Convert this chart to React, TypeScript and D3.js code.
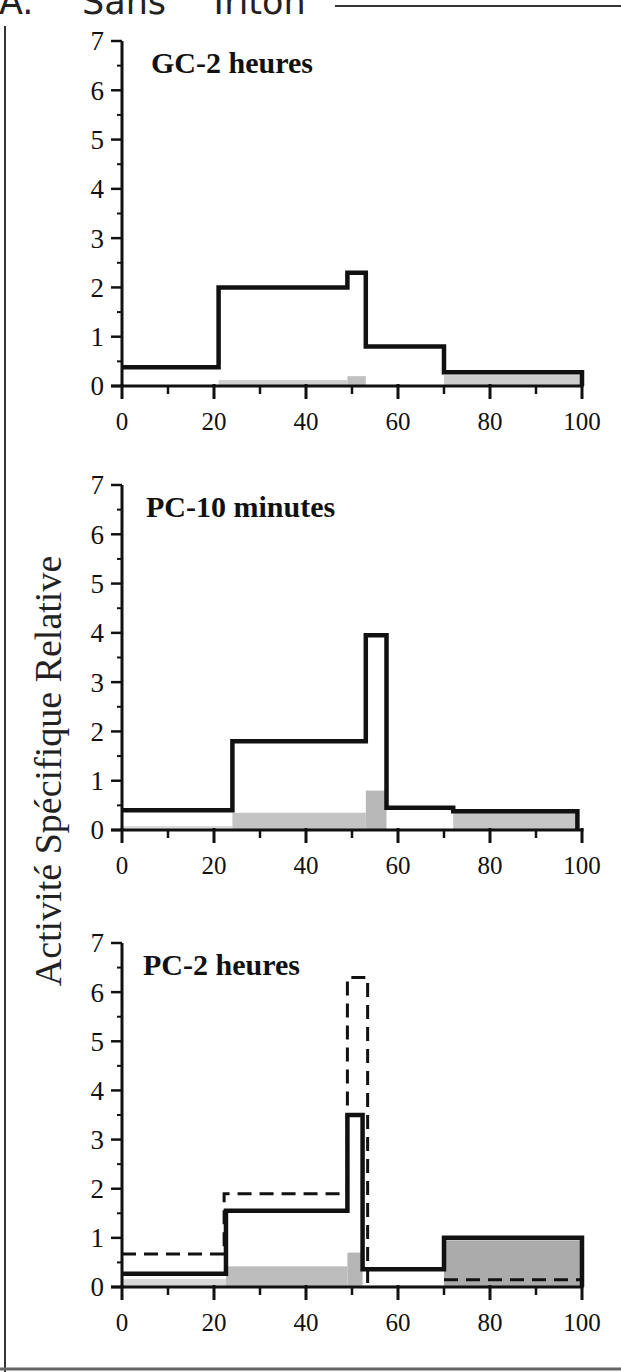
import React from "react";
import * as d3 from "d3";

const W = 621;
const H = 1372;

const xTicks = [0, 20, 40, 60, 80, 100];
const xMinor = [10, 30, 50, 70, 90];
const yTicks = [0, 1, 2, 3, 4, 5, 6, 7];
const yMinor = [0.5, 1.5, 2.5, 3.5, 4.5, 5.5, 6.5];

// GC-2 heures
const gcEdges = [0, 21, 49, 53, 70, 100];
const gcTotal = [0.38, 2.0, 2.3, 0.8, 0.28];
const gcGray = [0, 0.12, 0.2, 0, 0.22];

// PC-10 minutes
const pc10Edges = [0, 24, 53, 57.5, 72, 99];
const pc10Total = [0.4, 1.8, 3.95, 0.45, 0.38];
const pc10Gray = [0.08, 0.35, 0.8, 0, 0.38];

// PC-2 heures
const pc2Edges = [0, 22.6, 49, 52.3, 70, 100];
const pc2Total = [0.27, 1.55, 3.5, 0.36, 1.0];
const pc2Gray = [0.16, 0.42, 0.7, 0.04, 0.95];
const pc2DashEdges = [0, 22.2, 49, 53.4, 70, 100];
const pc2Dash = [0.67, 1.9, 6.3, 0, 0.15];

const panels = [
  { title: "GC-2 heures", titleX: 151, top: 41, bottom: 386, edges: gcEdges, total: gcTotal, gray: gcGray,
    shades: ["#dcdcdc", "#d0d0d0", "#c0c0c0", "#dcdcdc", "#cdcdcd"] },
  { title: "PC-10 minutes", titleX: 146, top: 485, bottom: 830, edges: pc10Edges, total: pc10Total, gray: pc10Gray,
    shades: ["#dcdcdc", "#c4c4c4", "#b8b8b8", "#dcdcdc", "#c6c6c6"] },
  { title: "PC-2 heures", titleX: 143, top: 943, bottom: 1287, edges: pc2Edges, total: pc2Total, gray: pc2Gray,
    shades: ["#d8d8d8", "#bdbdbd", "#b6b6b6", "#ebebeb", "#ababab"],
    dashEdges: pc2DashEdges, dash: pc2Dash },
];

const serif = "'Liberation Serif', 'Times New Roman', serif";

function stepPath(x, y, edges, vals) {
  const pts = vals.map((v, i) => [edges[i], v]);
  const last = edges[edges.length - 1];
  pts.push([last, vals[vals.length - 1]]);
  pts.push([last, 0]);
  return d3
    .line()
    .x((d) => x(d[0]))
    .y((d) => y(d[1]))
    .curve(d3.curveStepAfter)(pts);
}

// split a step series into runs of non-zero values
function runs(edges, vals) {
  const out = [];
  let cur = null;
  vals.forEach((v, i) => {
    if (v > 0) {
      if (!cur) cur = { edges: [edges[i]], vals: [] };
      cur.vals.push(v);
      cur.edges.push(edges[i + 1]);
    } else if (cur) {
      out.push(cur);
      cur = null;
    }
  });
  if (cur) out.push(cur);
  return out;
}

function Panel({ p }) {
  const x = d3.scaleLinear().domain([0, 100]).range([122, 582]);
  const y = d3.scaleLinear().domain([0, 7]).range([p.bottom, p.top]);
  const x0 = x(0);
  const y0 = y(0);

  return (
    <g>
      {p.gray.map((v, i) =>
        v > 0 ? (
          <rect
            key={i}
            x={x(p.edges[i])}
            y={y(v)}
            width={x(p.edges[i + 1]) - x(p.edges[i])}
            height={y0 - y(v)}
            fill={p.shades[i]}
          />
        ) : null
      )}

      {/* y axis */}
      <line x1={x0} x2={x0} y1={y(7)} y2={y0} stroke="#111" strokeWidth={3} />
      {yTicks.map((t) => (
        <g key={t}>
          <line x1={x0 - 11} x2={x0} y1={y(t)} y2={y(t)} stroke="#111" strokeWidth={2.5} />
          <text x={x0 - 18} y={y(t)} dy="0.35em" textAnchor="end" fontFamily={serif} fontSize={27} fill="#111">
            {t}
          </text>
        </g>
      ))}
      {yMinor.map((t) => (
        <line key={t} x1={x0 - 5} x2={x0} y1={y(t)} y2={y(t)} stroke="#111" strokeWidth={2} />
      ))}

      {/* x axis */}
      <line x1={x0 - 11} x2={x(100) + 1.5} y1={y0} y2={y0} stroke="#111" strokeWidth={3} />
      {xTicks.map((t) => (
        <g key={t}>
          <line x1={x(t)} x2={x(t)} y1={y0 - 2} y2={y0 + 13} stroke="#111" strokeWidth={3} />
          <text x={x(t)} y={y0 + 44} textAnchor="middle" fontFamily={serif} fontSize={25} fill="#111">
            {t}
          </text>
        </g>
      ))}
      {xMinor.map((t) => (
        <line key={t} x1={x(t)} x2={x(t)} y1={y0} y2={y0 + 8} stroke="#111" strokeWidth={2.5} />
      ))}

      {/* dashed series */}
      {p.dash
        ? runs(p.dashEdges, p.dash).map((r, i) => (
            <path
              key={i}
              d={stepPath(x, y, r.edges, r.vals)}
              fill="none"
              stroke="#111"
              strokeWidth={3}
              strokeDasharray="14 8"
            />
          ))
        : null}

      {/* main series */}
      <path
        d={stepPath(x, y, p.edges, p.total)}
        fill="none"
        stroke="#111"
        strokeWidth={4.5}
        strokeLinejoin="miter"
      />

      <text x={p.titleX} y={p.top + 32} fontFamily={serif} fontWeight="bold" fontSize={30} fill="#111">
        {p.title}
      </text>
    </g>
  );
}

export default function App() {
  return (
    <svg
      width={W}
      height={H}
      style={{ position: "absolute", left: 0, top: 0, background: "#fff" }}
    >
      <rect width={W} height={H} fill="#fff" />

      {/* header */}
      <g fontFamily="'DejaVu Sans', Verdana, sans-serif" fontSize={35} fill="#222">
        <text x={-1} y={14}>A.</text>
        <text x={82} y={14}>Sans</text>
        <text x={208} y={14}>Triton</text>
      </g>
      <line x1={335} x2={W} y1={6} y2={6} stroke="#333" strokeWidth={2} />
      <line x1={5} x2={5} y1={26} y2={H} stroke="#333" strokeWidth={2} />
      <line x1={0} x2={W} y1={H - 3} y2={H - 3} stroke="#666" strokeWidth={3} />

      <text
        transform="translate(61,771) rotate(-90)"
        textAnchor="middle"
        fontFamily={serif}
        fontSize={38}
        fill="#222"
      >
        Activité Spécifique Relative
      </text>

      {panels.map((p) => (
        <Panel key={p.title} p={p} />
      ))}
    </svg>
  );
}
